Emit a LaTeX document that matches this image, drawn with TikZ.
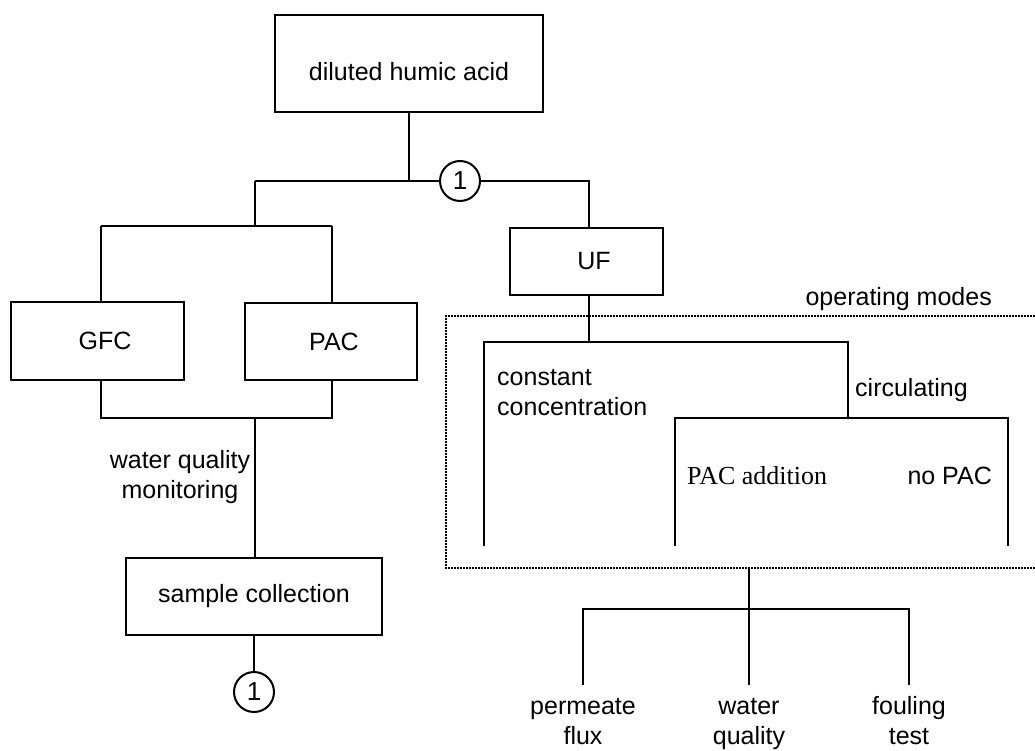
\documentclass[tikz,border=0pt]{standalone}
\usepackage{fontspec}
\setmainfont{Liberation Sans}
\newfontfamily\serifface{Liberation Serif}
\begin{document}
\begin{tikzpicture}[x=1pt,y=-1pt,
  conn/.style={draw, line width=2.1pt},
  box/.style={draw, line width=2.1pt, inner sep=0pt, font=\fontsize{25}{30}\selectfont},
  lbl/.style={inner sep=0pt, font=\fontsize{25}{30}\selectfont},
  num/.style={circle, draw, fill=white, minimum size=40pt, inner sep=0pt, line width=2pt, font=\fontsize{26}{30}\selectfont},
  zone/.style={draw, line width=1.7pt, dash pattern=on 1.7pt off 1.3pt}]
\useasboundingbox (0,0) rectangle (1035,751);
% boxes
\node[box, minimum width=268pt, minimum height=97pt, text height=35pt, text depth=0pt] (hum) at (409,63.5) {diluted humic acid};
\node[box, minimum width=173pt, minimum height=78pt] (gfc) at (97.5,341) {\hspace*{15pt}GFC};
\node[box, minimum width=172pt, minimum height=77pt] (pac) at (331,341.5) {\hspace*{6pt}PAC};
\node[box, minimum width=153pt, minimum height=67pt] (uf) at (586.5,261.5) {\hspace*{15pt}UF};
\node[box, minimum width=256pt, minimum height=77pt] (smp) at (254,596.5) {sample collection};
% junction coordinates
\coordinate (j0) at (409,181);
\coordinate (jl) at (255,181);
\coordinate (jr) at (589,181);
\coordinate (jl2) at (255,226);
\coordinate (ga) at (101,226);
\coordinate (pa) at (332,226);
\coordinate (gb) at (101,418);
\coordinate (pb) at (332,418);
\coordinate (mb) at (255,418);
% left tree
\draw[conn] (hum.south) -- (j0);
\draw[conn] (jl) -- (jr) -- (jr |- uf.north);
\draw[conn] (jl) -- (jl2);
\draw[conn] (ga) -- (pa);
\draw[conn] (ga) -- (ga |- gfc.north);
\draw[conn] (pa) -- (pa |- pac.north);
\draw[conn] (ga |- gfc.south) -- (gb) -- (pb) -- (pa |- pac.south);
\draw[conn] (mb) -- (mb |- smp.north);
\node[num] (c1) at (460,181) {1};
\node[num] (c2) at (254,692) {1};
\draw[conn] (smp.south) -- (c2.north);
\node[lbl, align=center] (wqm) at (180,477.5) {water quality\\monitoring};
% operating modes zone
\coordinate (z1) at (1035,316);
\coordinate (z2) at (446,316);
\coordinate (z3) at (446,568);
\coordinate (z4) at (1035,568);
\draw[zone] (z1) -- (z2) -- (z3) -- (z4);
\node[lbl, anchor=east] (opm) at (992,299) {operating modes};
% right tree
\coordinate (u1) at (589,342);
\coordinate (cl) at (484,342);
\coordinate (cr) at (848,342);
\coordinate (cle) at (484,546);
\coordinate (cr2) at (848,418);
\coordinate (pl) at (675,418);
\coordinate (pr) at (1008,418);
\coordinate (ple) at (675,546);
\coordinate (pre) at (1008,546);
\draw[conn] (jr |- uf.south) -- (u1);
\draw[conn] (cle) -- (cl) -- (cr) -- (cr2);
\draw[conn] (ple) -- (pl) -- (pr) -- (pre);
\node[lbl, align=left, anchor=west] (cc) at (497,393) {constant\\concentration};
\node[lbl, anchor=west] (circ) at (855,390) {circulating};
\node[lbl, anchor=west, font=\serifface\fontsize{26}{30}\selectfont] (pad) at (687,476) {PAC addition};
\node[lbl, anchor=east] (nop) at (992,476) {no PAC};
% outcomes
\coordinate (o0) at (749,568);
\coordinate (om) at (749,685);
\coordinate (ol) at (583,609);
\coordinate (or) at (909,609);
\coordinate (ole) at (583,685);
\coordinate (ore) at (909,685);
\draw[conn] (o0) -- (om);
\draw[conn] (ole) -- (ol) -- (or) -- (ore);
\node[lbl, align=center, anchor=base] (pf) at (583,744) {permeate\\flux};
\node[lbl, align=center, anchor=base] (wq) at (749,744) {water\\quality};
\node[lbl, align=center, anchor=base] (ft) at (909,744) {fouling\\test};
\end{tikzpicture}
\end{document}
